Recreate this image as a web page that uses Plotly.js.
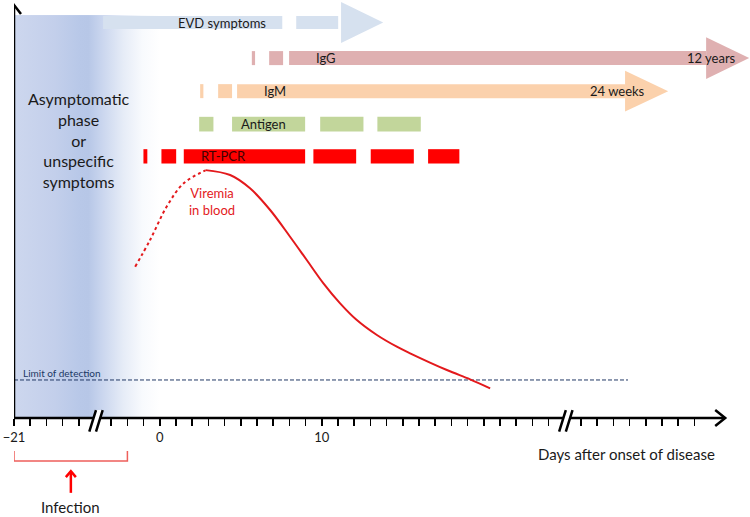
<!DOCTYPE html>
<html><head><meta charset="utf-8">
<script src="https://cdn.plot.ly/plotly-3.0.1.min.js"></script>
<style>html,body{margin:0;padding:0;background:#fff}#chart{width:750px;height:517px}</style>
</head><body><div id="chart"></div>
<script>
// ---- Data (x = axis position in days after onset; the pre-onset part is compressed: position -9 = day -21) ----
const rowNames   = ['EVD symptoms', 'IgG', 'IgM', 'Antigen', 'RT-PCR'];
const rowLevel   = [94.6, 86.1, 78.2, 70.3, 62.6];

const evdStarts  = [-3.50, 8.42];
const evdEnds    = [7.56, 11.01];
const evdHead    = [11.19, 13.79];      // arrow head base, tip

const iggStarts  = [5.68, 6.75, 7.98];
const iggEnds    = [5.88, 7.61, 33.72];
const iggHead    = [33.72, 36.38];

const igmStarts  = [2.49, 3.60, 4.77];
const igmEnds    = [2.69, 4.46, 28.72];
const igmHead    = [28.72, 31.38];

const antigenStarts = [2.43, 4.46, 9.90, 13.43];
const antigenEnds   = [3.31, 8.97, 12.57, 16.11];

const pcrStarts  = [-1.01, 0.10, 1.48, 9.48, 13.02, 16.56];
const pcrEnds    = [-0.77, 1.01, 8.97, 12.12, 15.68, 18.49];

const viremiaEarlyX = [-1.52, -0.60, 0.43, 1.46, 2.82];
const viremiaEarlyY = [36.2, 42.6, 50.6, 56.1, 59.25];
const viremiaX = [2.82, 4.34, 5.57, 6.81, 8.04, 9.07, 10.10, 11.13, 12.16, 13.40, 14.63, 15.45, 17.72, 19.15, 20.39];
const viremiaY = [59.3, 58.13, 54.95, 49.76, 43.37, 37.80, 32.22, 27.44, 23.44, 19.86, 17.06, 15.48, 11.48, 9.26, 7.11];

const lodLevel = 9.1;
const lodRange = [-9, 28.9];

const breakPositions = [-4, 25];
const tickPositions = [-9,-8,-7,-6,-5,-3,-2,-1,0,1,2,3,4,5,6,7,8,9,10,11,12,13,14,15,16,17,18,19,20,21,22,23,24,26,27,28,29,30,31,32,33];
const tickLabelMap = {'-9': '\u221221', '0': '0', '10': '10'};
const tickLabels = tickPositions.map(p => tickLabelMap[String(p)] || '');

const infectionWindow = [-9, -2];
const infectionArrowX = -5.49;

// ---- Styles ----
const FONT = 'Lato, "Open Sans", sans-serif';
const TXT = '#1a1a1a';
const colors = ['#d6e1ef', '#dfb0b1', '#fbd1ac', '#c2d69b', '#ff0000'];
const thickness = [3.11, 3.35, 3.35, 3.5, 3.43];
const headHalf = [4.9, 5.0, 4.9];

const segs = [[evdStarts, evdEnds], [iggStarts, iggEnds], [igmStarts, igmEnds], [antigenStarts, antigenEnds], [pcrStarts, pcrEnds]];
const traces = [];
segs.forEach(([s, e], i) => {
  traces.push({
    type: 'bar', orientation: 'h', base: s, x: s.map((v, k) => e[k] - v),
    y: s.map(() => rowLevel[i]), width: s.map(() => thickness[i]),
    marker: {color: colors[i], line: {width: 0}}, hoverinfo: 'skip', showlegend: false
  });
});
[[evdHead, 0], [iggHead, 1], [igmHead, 2]].forEach(([h, i]) => {
  const c = rowLevel[i], hh = headHalf[i];
  traces.push({
    type: 'scatter', mode: 'lines', x: [h[0], h[1], h[0], h[0]], y: [c + hh, c, c - hh, c + hh],
    fill: 'toself', fillcolor: colors[i], line: {width: 0, color: colors[i]}, hoverinfo: 'skip', showlegend: false
  });
});
traces.push({type: 'scatter', mode: 'lines', x: lodRange, y: [lodLevel, lodLevel],
  line: {color: '#203864', width: 1, dash: '4px,2px'}, hoverinfo: 'skip', showlegend: false});
traces.push({type: 'scatter', mode: 'lines', x: viremiaEarlyX, y: viremiaEarlyY,
  line: {color: '#e3191c', width: 2, dash: 'dot', shape: 'spline', smoothing: 1}, hoverinfo: 'skip', showlegend: false});
traces.push({type: 'scatter', mode: 'lines', x: viremiaX, y: viremiaY,
  line: {color: '#e3191c', width: 2, shape: 'spline', smoothing: 1}, hoverinfo: 'skip', showlegend: false});

// gradient background
const svg = "<svg xmlns='http://www.w3.org/2000/svg' width='100' height='100' preserveAspectRatio='none'>" +
  "<defs><linearGradient id='g' x1='0' y1='0' x2='1' y2='0'>" +
  "<stop offset='0' stop-color='#cdd7ee'/><stop offset='0.28' stop-color='#c3cfeb'/>" +
  "<stop offset='0.45' stop-color='#b8c8e8'/><stop offset='0.51' stop-color='#b7c7e7'/>" +
  "<stop offset='0.60' stop-color='#c9d5ee'/><stop offset='0.75' stop-color='#e6ecf7'/>" +
  "<stop offset='0.88' stop-color='#f8fafd'/><stop offset='1' stop-color='#ffffff'/>" +
  "</linearGradient></defs><rect width='100' height='100' fill='url(#g)'/></svg>";
const gradSrc = 'data:image/svg+xml;charset=utf-8,' + encodeURIComponent(svg);

const AX_END = 34.9, AX_TOP = 98.8;
const shapes = [
  {type: 'line', xref: 'x', yref: 'y', x0: -9, x1: AX_END, y0: 0, y1: 0, line: {color: '#000', width: 2.5}},
  {type: 'path', xref: 'x', yref: 'y', xsizemode: 'pixel', ysizemode: 'pixel', xanchor: AX_END, yanchor: 0,
   path: 'M -10 8 L 0 0 L -10 -8', line: {color: '#000', width: 2.5}},
  {type: 'line', xref: 'x', yref: 'y', x0: -9, x1: -9, y0: 0, y1: AX_TOP, line: {color: '#000', width: 2.5}},
  {type: 'path', xref: 'x', yref: 'y', xsizemode: 'pixel', ysizemode: 'pixel', xanchor: -9, yanchor: AX_TOP,
   path: 'M -7 -9 L 0 0 L 7 -9', line: {color: '#000', width: 2.5}},
  // infection bracket
  {type: 'path', xref: 'x', yref: 'y',
   path: `M ${infectionWindow[0]} -7.9 L ${infectionWindow[0]} -10.3 L ${infectionWindow[1]} -10.3 L ${infectionWindow[1]} -7.9`,
   line: {color: '#ee5f5b', width: 1.5}},
  {type: 'line', xref: 'x', yref: 'y', x0: infectionArrowX, x1: infectionArrowX, y0: -17.9, y1: -12.9, line: {color: '#ff0000', width: 2.5}},
  {type: 'path', xref: 'x', yref: 'y', xsizemode: 'pixel', ysizemode: 'pixel', xanchor: infectionArrowX, yanchor: -12.7,
   path: 'M -5 -6 L 0 0 L 5 -6', line: {color: '#ff0000', width: 2.5}}
];
breakPositions.forEach(b => {
  shapes.push({type: 'path', xref: 'x', yref: 'y', xsizemode: 'pixel', ysizemode: 'pixel', xanchor: b, yanchor: 0,
    path: 'M 1 8 L 7.7 8 L 1 -13.7 L -5.7 -13.7 Z', fillcolor: '#fff', line: {width: 0}});
  shapes.push({type: 'path', xref: 'x', yref: 'y', xsizemode: 'pixel', ysizemode: 'pixel', xanchor: b, yanchor: 0,
    path: 'M 1 8 L -5.7 -13.7 M 7.7 8 L 1 -13.7', line: {color: '#000', width: 2.5}});
});

const ann = (x, y, text, size, color, extra) => Object.assign({x, y, xref: 'x', yref: 'y', text, showarrow: false,
  font: {family: FONT, size, color}}, extra || {});
const annotations = [
  ann(3.83, rowLevel[0], 'EVD symptoms', 13, TXT),
  ann(10.27, rowLevel[1], 'IgG', 13, TXT),
  ann(34.04, rowLevel[1], '12 years', 13, TXT),
  ann(7.12, rowLevel[2], 'IgM', 13, TXT),
  ann(28.23, rowLevel[2], '24 weeks', 13, TXT),
  ann(6.38, rowLevel[3], 'Antigen', 13, TXT),
  ann(3.91, rowLevel[4], 'RT-PCR', 13, '#400000'),
  ann(3.21, 51.9, 'Viremia<br>in blood', 13, '#e3191c'),
  ann(-4.98, 66.5, 'Asymptomatic<br>phase<br>or<br>unspecific<br>symptoms', 16, TXT),
  ann(-8.58, 10.8, 'Limit of detection', 10, '#203864', {xanchor: 'left'}),
  ann(28.81, -8.6, 'Days after onset of disease', 15, TXT),
  ann(infectionArrowX, -21.3, 'Infection', 15, TXT)
];

const layout = {
  width: 750, height: 517,
  margin: {l: 14, r: 0, t: 0, b: 0, pad: 0},
  paper_bgcolor: '#fff', plot_bgcolor: 'rgba(0,0,0,0)',
  barmode: 'overlay', showlegend: false,
  xaxis: {range: [-9, 36.43], anchor: 'free', position: 23.68 / 123.68, showline: false, zeroline: false, showgrid: false,
    ticks: 'outside', ticklen: 7, tickwidth: 1.5, tickcolor: '#000', tickvals: tickPositions, ticktext: tickLabels,
    tickfont: {family: FONT, size: 13, color: TXT}, fixedrange: true},
  yaxis: {range: [-23.68, 100], visible: false, fixedrange: true},
  images: [{source: gradSrc, xref: 'x', yref: 'y', x: -9, y: 96.4, sizex: 9, sizey: 96.4,
    sizing: 'stretch', xanchor: 'left', yanchor: 'top', layer: 'below'}],
  shapes, annotations
};
Plotly.newPlot('chart', traces, layout, {staticPlot: true, displayModeBar: false});
</script></body></html>
